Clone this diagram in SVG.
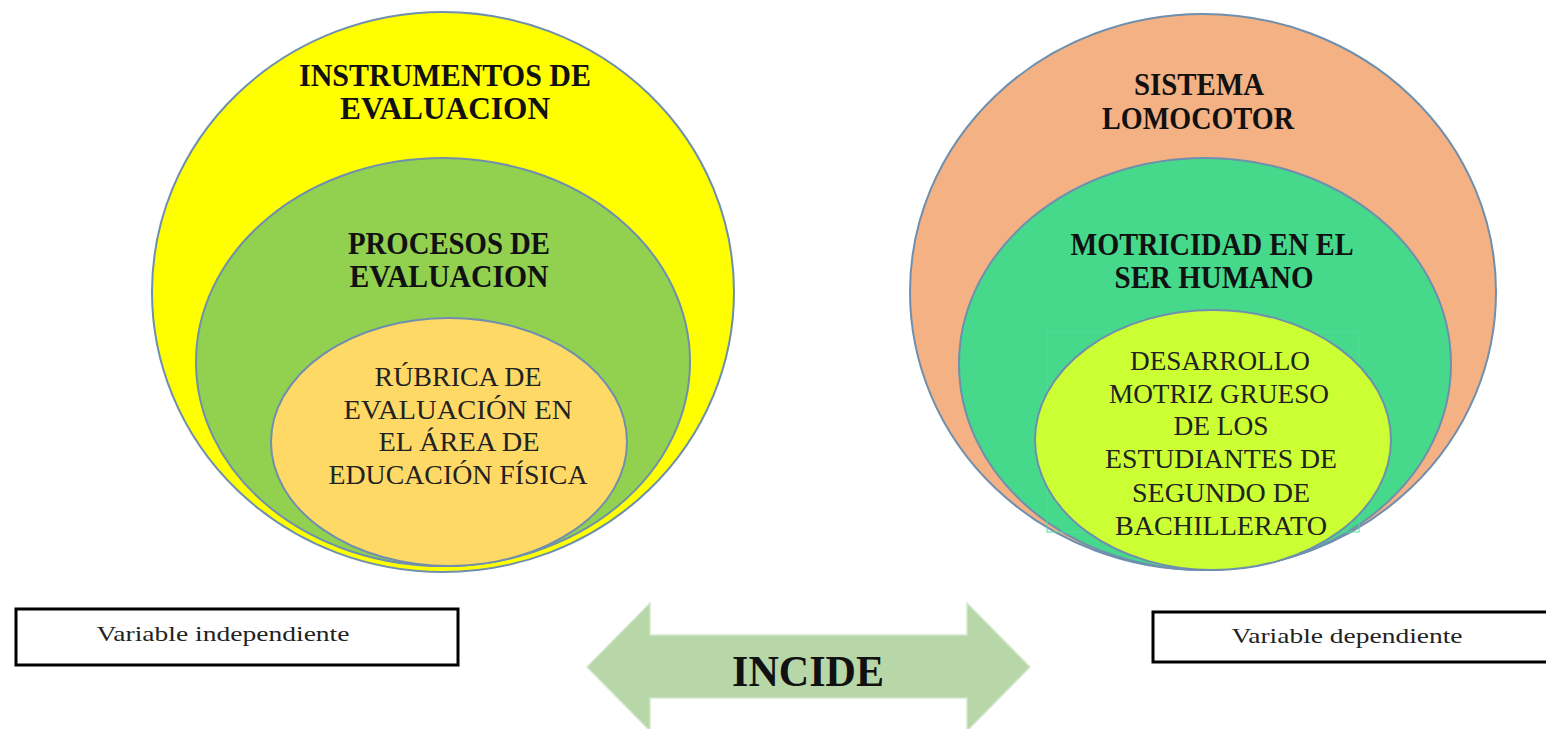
<svg xmlns="http://www.w3.org/2000/svg" width="1546" height="729" viewBox="0 0 1546 729">
<style>
.c{stroke:#6f8fae;stroke-width:2}
.t{font-family:"Liberation Serif","Times New Roman",serif;font-weight:bold;font-size:32px;fill:#111;text-anchor:middle}
.s{font-family:"Liberation Serif","Times New Roman",serif;font-size:27px;fill:#222;text-anchor:middle}
.b{font-family:"Liberation Serif","Times New Roman",serif;font-size:22px;fill:#222;text-anchor:middle}
.box{fill:#fff;stroke:#000;stroke-width:3}
</style>
<rect width="1546" height="729" fill="#fff"/>
<g id="instrumentos">
<ellipse class="c" cx="443" cy="292" rx="291" ry="280" fill="#ffff00"/>
<text class="t" x="445" y="86" textLength="292" lengthAdjust="spacingAndGlyphs">INSTRUMENTOS DE</text>
<text class="t" x="445" y="119" textLength="210" lengthAdjust="spacingAndGlyphs">EVALUACION</text>
</g>
<g id="procesos">
<ellipse class="c" cx="443" cy="362" rx="247" ry="204" fill="#92d050"/>
<text class="t" x="449" y="254" textLength="202" lengthAdjust="spacingAndGlyphs">PROCESOS DE</text>
<text class="t" x="449" y="287" textLength="199" lengthAdjust="spacingAndGlyphs">EVALUACION</text>
</g>
<g id="rubrica">
<ellipse class="c" cx="449" cy="442" rx="178" ry="124" fill="#ffd966"/>
<text class="s" x="458" y="386" textLength="167" lengthAdjust="spacingAndGlyphs">RÚBRICA  DE</text>
<text class="s" x="458" y="419" textLength="229" lengthAdjust="spacingAndGlyphs">EVALUACIÓN EN</text>
<text class="s" x="459" y="451" textLength="161" lengthAdjust="spacingAndGlyphs">EL ÁREA DE</text>
<text class="s" x="458" y="484" textLength="259" lengthAdjust="spacingAndGlyphs">EDUCACIÓN FÍSICA</text>
</g>
<g id="sistema">
<ellipse class="c" cx="1203" cy="292" rx="293" ry="278" fill="#f4b183"/>
<text class="t" x="1199" y="95" textLength="130" lengthAdjust="spacingAndGlyphs">SISTEMA</text>
<text class="t" x="1198" y="129" textLength="192" lengthAdjust="spacingAndGlyphs">LOMOCOTOR</text>
</g>
<g id="motricidad">
<ellipse class="c" cx="1205" cy="364" rx="246" ry="206" fill="#46d98c"/>
<text class="t" x="1212" y="255" textLength="283" lengthAdjust="spacingAndGlyphs">MOTRICIDAD EN EL</text>
<text class="t" x="1214" y="288" textLength="199" lengthAdjust="spacingAndGlyphs">SER HUMANO</text>
<rect x="1047" y="332" width="312" height="200" fill="none" stroke="#52dc95" stroke-width="1"/>
</g>
<g id="desarrollo">
<ellipse class="c" cx="1213" cy="440" rx="178" ry="130" fill="#ccff33"/>
<text class="s" x="1220" y="370" textLength="180" lengthAdjust="spacingAndGlyphs">DESARROLLO</text>
<text class="s" x="1219" y="403" textLength="220" lengthAdjust="spacingAndGlyphs">MOTRIZ GRUESO</text>
<text class="s" x="1221" y="435" textLength="95" lengthAdjust="spacingAndGlyphs">DE LOS</text>
<text class="s" x="1221" y="468" textLength="232" lengthAdjust="spacingAndGlyphs">ESTUDIANTES DE</text>
<text class="s" x="1221" y="502" textLength="178" lengthAdjust="spacingAndGlyphs">SEGUNDO DE</text>
<text class="s" x="1221" y="535" textLength="212" lengthAdjust="spacingAndGlyphs">BACHILLERATO</text>
</g>
<g id="var-independiente">
<rect class="box" x="16" y="609" width="442" height="56"/>
<text class="b" x="223" y="641" textLength="253" lengthAdjust="spacingAndGlyphs">Variable independiente</text>
</g>
<g id="var-dependiente">
<rect class="box" x="1153" y="612" width="400" height="50"/>
<text class="b" x="1347" y="643" textLength="231" lengthAdjust="spacingAndGlyphs">Variable dependiente</text>
</g>
<g id="connectors">
<path d="M587,667 L650,603 L650,635 L967,635 L967,603 L1030,667 L967,731 L967,698 L650,698 L650,731 Z" fill="#b7d7a8" stroke="#d4e7cb" stroke-width="1.5"/>
<text x="808" y="686" font-family="'Liberation Serif','Times New Roman',serif" font-weight="bold" font-size="44" fill="#111" text-anchor="middle" textLength="152" lengthAdjust="spacingAndGlyphs">INCIDE</text>
</g>
</svg>
